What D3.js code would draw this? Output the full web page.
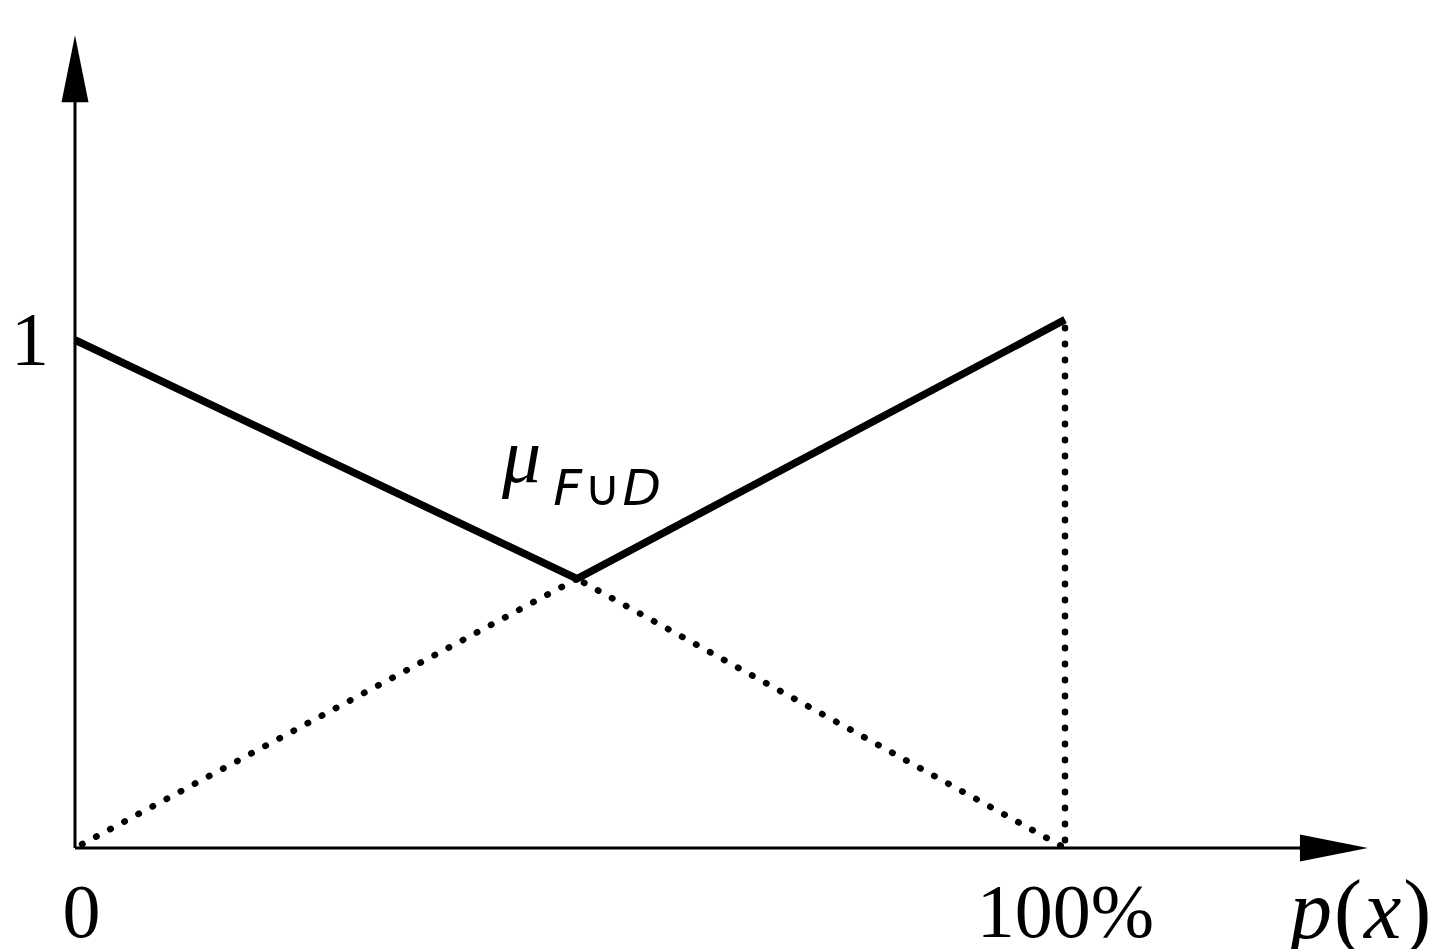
<!DOCTYPE html>
<html>
<head>
<meta charset="utf-8">
<script src="https://cdn.jsdelivr.net/npm/d3@7"></script>
<style>
  html, body { margin: 0; padding: 0; background: #fff; }
  svg { display: block; }
</style>
</head>
<body>
<script>
// Membership of the union F ∪ D over the proportion p(x)
const pValues = [0, 50.7, 100];
const unionMu = [1, 0.53, 1.04];          // max of the two memberships (solid)
const risingP = [0, 50.7];                 // D below the crossing (dotted)
const risingMu = [0, 0.53];
const fallingP = [50.7, 100];              // F below the crossing (dotted)
const fallingMu = [0.53, 0];
const dropP = [100, 100];                  // vertical drop at 100% (dotted)
const dropMu = [1.04, 0];
const xTickValues = [0, 100];
const xTickLabels = ["0", "100%"];
const yTickValues = [1];
const yTickLabels = ["1"];
const axisEnd = { p: 130.6, mu: 1.6 };

const W = 1439, H = 949;
const svg = d3.select("body").append("svg").attr("width", W).attr("height", H);

const x = d3.scaleLinear().domain([0, 100]).range([75, 1065]);
const y = d3.scaleLinear().domain([0, 1]).range([848, 340]);

const serif = "'Liberation Serif', 'Times New Roman', serif";

// axis lines with arrow heads
const g = svg.append("g");
g.append("line")
  .attr("x1", x(0)).attr("y1", y(0))
  .attr("x2", x(axisEnd.p) - 60).attr("y2", y(0))
  .attr("stroke", "#000").attr("stroke-width", 3);
g.append("line")
  .attr("x1", x(0)).attr("y1", y(0))
  .attr("x2", x(0)).attr("y2", y(axisEnd.mu) + 60)
  .attr("stroke", "#000").attr("stroke-width", 3);

const tipX = [x(axisEnd.p), y(0)];
g.append("path")
  .attr("d", `M${tipX[0]},${tipX[1]} L${tipX[0] - 68},${tipX[1] - 13.5} L${tipX[0] - 68},${tipX[1] + 13.5} Z`)
  .attr("fill", "#000");
const tipY = [x(0), y(axisEnd.mu)];
g.append("path")
  .attr("d", `M${tipY[0]},${tipY[1]} L${tipY[0] - 13.5},${tipY[1] + 67} L${tipY[0] + 13.5},${tipY[1] + 67} Z`)
  .attr("fill", "#000");

// tick labels via d3 axes
const xAxis = d3.axisBottom(x).tickValues(xTickValues)
  .tickFormat((d, i) => xTickLabels[i]).tickSize(0).tickPadding(35);
const gx = svg.append("g").attr("transform", `translate(0,${y(0)})`).call(xAxis);
gx.select(".domain").remove();
gx.selectAll("text").attr("font-family", serif).attr("font-size", 76).attr("fill", "#000");
gx.selectAll(".tick").filter(d => d === 0).select("text").attr("dx", 6);

const yAxis = d3.axisLeft(y).tickValues(yTickValues)
  .tickFormat((d, i) => yTickLabels[i]).tickSize(0).tickPadding(26);
const gy = svg.append("g").attr("transform", `translate(${x(0)},0)`).call(yAxis);
gy.select(".domain").remove();
gy.selectAll("text").attr("font-family", serif).attr("font-size", 76).attr("fill", "#000");

// curves
const line = d3.line().x(d => x(d[0])).y(d => y(d[1]));
const zip = (a, b) => a.map((v, i) => [v, b[i]]);

const dotted = [zip(risingP, risingMu), zip(fallingP, fallingMu), zip(dropP, dropMu)];
svg.append("g").selectAll("path").data(dotted).join("path")
  .attr("d", line)
  .attr("fill", "none").attr("stroke", "#000")
  .attr("stroke-width", 6.5)
  .attr("stroke-linecap", "round")
  .attr("stroke-dasharray", "0.5 15.5")
  .attr("stroke-dashoffset", -8);

svg.append("path")
  .attr("d", line(zip(pValues, unionMu)))
  .attr("fill", "none").attr("stroke", "#000")
  .attr("stroke-width", 7.5)
  .attr("stroke-linejoin", "miter");

// curve label
const lab = svg.append("text").attr("x", 502).attr("y", 482).attr("fill", "#000");
lab.append("tspan").attr("font-family", serif).attr("font-style", "italic").attr("font-size", 78).text("μ");
lab.append("tspan").attr("font-family", "'DejaVu Sans', sans-serif").attr("font-size", 50)
  .attr("dx", 12).attr("dy", 23).attr("font-style", "italic").text("F");
lab.append("tspan").attr("font-family", "'DejaVu Sans', sans-serif").attr("font-size", 50)
  .attr("dx", 2).text("∪");
lab.append("tspan").attr("font-family", "'DejaVu Sans', sans-serif").attr("font-size", 50)
  .attr("dx", 2).attr("font-style", "italic").text("D");

// axis title p(x)
const t = svg.append("text").attr("x", 1290).attr("y", 938).attr("fill", "#000")
  .attr("font-family", serif).attr("font-size", 84).attr("letter-spacing", 2);
t.append("tspan").attr("font-style", "italic").text("p");
t.append("tspan").text("(");
t.append("tspan").attr("font-style", "italic").text("x");
t.append("tspan").text(")");
</script>
</body>
</html>
